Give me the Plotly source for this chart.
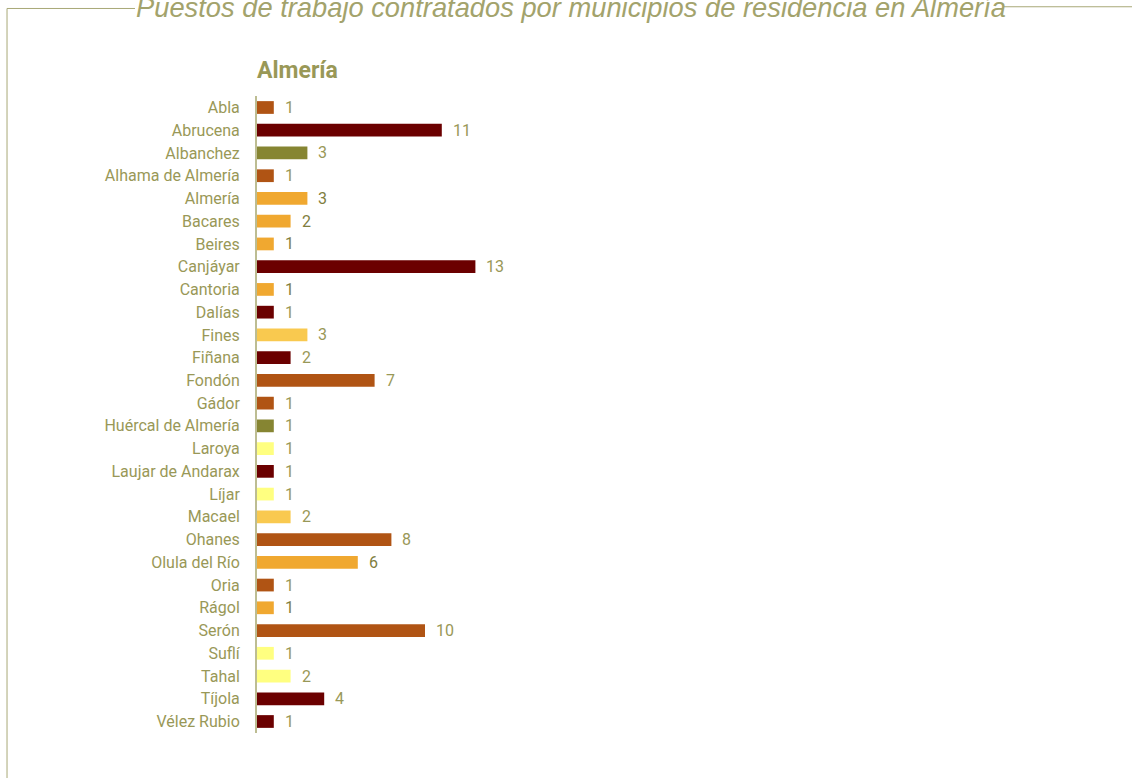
import plotly.graph_objects as go

municipios = ["Abla", "Abrucena", "Albanchez", "Alhama de Almería", "Almería", "Bacares",
              "Beires", "Canjáyar", "Cantoria", "Dalías", "Fines", "Fiñana", "Fondón",
              "Gádor", "Huércal de Almería", "Laroya", "Laujar de Andarax", "Líjar",
              "Macael", "Ohanes", "Olula del Río", "Oria", "Rágol", "Serón", "Suflí",
              "Tahal", "Tíjola", "Vélez Rubio"]
puestos = [1, 11, 3, 1, 3, 2, 1, 13, 1, 1, 3, 2, 7, 1, 1, 1, 1, 1, 2, 8, 6, 1, 1, 10, 1, 2, 4, 1]
grupo = ["rust", "dark", "olive", "rust", "orange", "orange", "orange", "dark", "orange",
         "dark", "gold", "dark", "rust", "rust", "olive", "pale", "dark", "pale", "gold",
         "rust", "orange", "rust", "orange", "rust", "pale", "pale", "dark", "dark"]

palette = {"rust": "#B05414", "dark": "#6B0000", "olive": "#868532",
           "orange": "#F0A830", "gold": "#F9C94F", "pale": "#FFFF80"}
colors = [palette[g] for g in grupo]

TXT = "#999857"
FONT = "Roboto"

fig = go.Figure(go.Bar(
    x=puestos, y=municipios, orientation="h",
    marker=dict(color=colors, line=dict(width=0)),
    width=0.56, hoverinfo="x+y",
))

for m, v, g in zip(municipios, puestos, grupo):
    fig.add_annotation(x=v, y=m, xref="x", yref="y", text=str(v), showarrow=False,
                       xanchor="left", xshift=9,
                       font=dict(family=FONT, size=16,
                                 color="#7F7E3E" if g == "orange" else TXT))

fig.update_layout(
    width=1132, height=778,
    margin=dict(l=257, r=23, t=96, b=45),
    paper_bgcolor="white", plot_bgcolor="white",
    showlegend=False,
    xaxis=dict(range=[0, 852 / 16.8], visible=False, fixedrange=True),
    yaxis=dict(autorange="reversed", showgrid=False, zeroline=False,
               showline=True, linecolor="#BDBD92", linewidth=2,
               ticks="", ticklabelstandoff=12,
               tickfont=dict(family=FONT, size=16, color=TXT)),
)

# subtitle
fig.add_annotation(xref="paper", yref="paper", x=-0.002, y=1.0408, xanchor="left", yanchor="middle",
                   text="<b>Almería</b>", showarrow=False,
                   font=dict(family=FONT, size=23, color=TXT))

# main title
fig.add_annotation(xref="paper", yref="paper", x=0.3685, y=1.1390, xanchor="center", yanchor="middle",
                   text="<i>Puestos de trabajo contratados por municipios de residencia en Almería</i>",
                   showarrow=False, font=dict(family="Liberation Sans", size=27.3, color="#A3A36C"))

# frame lines
fig.add_shape(type="path", xref="paper", yref="paper",
              path="M -0.2934 -0.0800 L -0.2934 1.1374 L -0.1432 1.1374",
              line=dict(color="#A8A877", width=1))
fig.add_shape(type="line", xref="paper", yref="paper",
              x0=0.8768, y0=1.1401, x1=1.04, y1=1.1401,
              line=dict(color="#A8A877", width=1))

fig.write_html("out.html", config={"displayModeBar": False},
               post_script="document.body.style.margin='0';")
